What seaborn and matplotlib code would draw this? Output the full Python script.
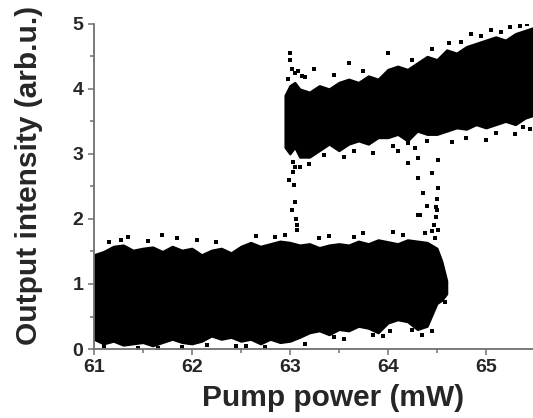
import numpy as np
import pandas as pd
import matplotlib
matplotlib.use("Agg")
import matplotlib.pyplot as plt
import seaborn as sns

# envelope of the dense low-intensity branch
low_x = [61.0, 61.1, 61.2, 61.3, 61.4, 61.5, 61.6, 61.7, 61.8, 61.9,
         62.0, 62.1, 62.2, 62.3, 62.4, 62.5, 62.6, 62.7, 62.8, 62.9,
         63.0, 63.1, 63.2, 63.3, 63.4, 63.5, 63.6, 63.7, 63.8, 63.9,
         64.0, 64.1, 64.2, 64.3, 64.4, 64.5, 64.55, 64.6]
low_top = [1.45, 1.50, 1.58, 1.60, 1.52, 1.55, 1.57, 1.50, 1.58, 1.52,
           1.55, 1.45, 1.52, 1.55, 1.48, 1.58, 1.64, 1.58, 1.62, 1.66,
           1.64, 1.60, 1.62, 1.56, 1.60, 1.62, 1.60, 1.66, 1.62, 1.68,
           1.65, 1.62, 1.68, 1.66, 1.64, 1.55, 1.35, 1.05]
low_bot = [0.15, 0.08, 0.12, 0.06, 0.08, 0.10, 0.05, 0.10, 0.15, 0.10,
           0.08, 0.12, 0.20, 0.15, 0.18, 0.12, 0.15, 0.08, 0.15, 0.10,
           0.12, 0.18, 0.25, 0.28, 0.22, 0.30, 0.28, 0.35, 0.32, 0.25,
           0.40, 0.45, 0.42, 0.30, 0.35, 0.70, 0.75, 0.85]

# envelope of the high-intensity branch
high_x = [62.95, 63.0, 63.05, 63.1, 63.2, 63.3, 63.4, 63.5, 63.6, 63.7,
          63.8, 63.9, 64.0, 64.1, 64.2, 64.3, 64.4, 64.5, 64.6, 64.7,
          64.8, 64.9, 65.0, 65.1, 65.2, 65.3, 65.4, 65.5]
high_top = [3.90, 4.05, 4.10, 4.00, 3.95, 4.05, 4.00, 4.10, 4.15, 4.10,
            4.20, 4.15, 4.30, 4.35, 4.30, 4.40, 4.50, 4.45, 4.60, 4.55,
            4.65, 4.70, 4.75, 4.80, 4.75, 4.85, 4.90, 4.95]
high_bot = [3.10, 3.00, 3.10, 2.95, 2.95, 3.05, 3.15, 3.05, 3.15, 3.20,
            3.15, 3.25, 3.25, 3.30, 3.20, 3.35, 3.30, 3.30, 3.35, 3.40,
            3.38, 3.45, 3.40, 3.45, 3.50, 3.45, 3.55, 3.60]

# single points outside the dense bands (switching points and edge speckle)
pts_x = [63.00, 63.00, 63.02, 63.05, 62.98, 63.08, 63.12,
         63.03, 63.03, 63.04, 63.05, 63.02, 63.06, 63.07, 63.07, 63.05, 62.99,
         64.20, 64.20, 64.31, 64.28, 64.31, 64.51, 64.51, 64.31, 64.50,
         64.49, 64.47, 64.51, 64.49, 64.33, 64.50, 64.45, 64.36, 64.40,
         61.35, 61.28, 61.70, 61.85, 62.05, 62.65, 62.95, 63.40, 63.75, 64.05, 64.45,
         61.15, 61.55, 62.25, 62.85, 63.30, 63.65, 64.15, 64.38, 64.48,
         61.45, 61.90, 62.45, 63.15, 63.55, 63.95, 64.35, 64.25, 64.02,
         61.10, 61.65, 62.15, 62.55, 62.75, 63.45, 63.85, 64.45, 64.58,
         63.25, 63.60, 64.00, 64.62, 64.85, 65.05, 65.25, 65.42,
         63.15, 63.45, 63.75, 64.25, 64.45, 64.75, 64.95, 65.15, 65.35,
         63.20, 63.55, 64.10, 64.65, 65.00, 65.30, 65.45, 63.85,
         63.10, 63.35, 63.65, 64.05, 64.40, 64.80, 65.10, 65.38]
pts_y = [4.55, 4.45, 4.30, 4.25, 4.15, 4.28, 4.20,
         2.88, 2.72, 2.52, 2.26, 2.14, 2.00, 1.90, 1.83, 2.80, 2.60,
         3.17, 2.86, 2.94, 3.09, 2.63, 2.48, 2.90, 2.06, 2.14,
         2.03, 1.90, 1.83, 2.18, 2.06, 2.30, 2.70, 2.40, 2.20,
         1.72, 1.68, 1.75, 1.70, 1.68, 1.74, 1.76, 1.74, 1.78, 1.80, 1.82,
         1.64, 1.66, 1.65, 1.72, 1.70, 1.73, 1.75, 1.78, 1.70,
         0.02, 0.03, 0.05, 0.08, 0.16, 0.20, 0.22, 0.30, 0.28,
         0.05, 0.02, 0.06, 0.04, 0.03, 0.18, 0.22, 0.28, 0.72,
         4.30, 4.40, 4.55, 4.70, 4.85, 4.90, 4.95, 5.00,
         4.18, 4.22, 4.28, 4.45, 4.62, 4.72, 4.82, 4.88, 4.96,
         2.85, 2.95, 3.05, 3.18, 3.22, 3.30, 3.38, 3.02,
         2.80, 2.98, 3.05, 3.12, 3.20, 3.25, 3.32, 3.42]

pts = pd.DataFrame({"power": pts_x, "intensity": pts_y})

sns.set_style("ticks")
plt.rcParams["font.family"] = ["Liberation Sans", "DejaVu Sans"]
plt.rcParams["font.weight"] = "bold"

fig = plt.figure(figsize=(5.33, 4.18), dpi=100)
ax = fig.add_axes([0.176, 0.165, 0.824, 0.778])

ax.fill_between(low_x, low_bot, low_top, color="black", linewidth=1.5,
                edgecolor="black")
ax.fill_between(high_x, high_bot, high_top, color="black", linewidth=1.5,
                edgecolor="black")
sns.scatterplot(data=pts, x="power", y="intensity", marker="s", s=10,
                color="black", linewidth=0, ax=ax, clip_on=True)

ax.set_xlim(61, 65.48)
ax.set_ylim(0, 5)
ax.set_xticks([61, 62, 63, 64, 65])
ax.set_xticks(np.arange(61.5, 65.5, 1.0), minor=True)
ax.set_yticks([0, 1, 2, 3, 4, 5])
ax.set_yticks(np.arange(0.5, 5.0, 1.0), minor=True)

for side in ["top", "right"]:
    ax.spines[side].set_visible(False)
for side in ["left", "bottom"]:
    ax.spines[side].set_color("#707070")
    ax.spines[side].set_linewidth(1.3)

ax.tick_params(which="major", direction="out", length=4.5, width=1.1,
               color="#707070", labelsize=14, pad=3)
ax.tick_params(which="minor", direction="out", length=2.8, width=1.1,
               color="#707070")
for lab in ax.get_xticklabels() + ax.get_yticklabels():
    lab.set_fontweight("bold")

ax.set_xlabel("Pump power (mW)", fontsize=21.5, fontweight="bold")
ax.set_ylabel("Output intensity (arb.u.)", fontsize=21.5, fontweight="bold")
ax.xaxis.set_label_coords(0.545, -0.108)
ax.yaxis.set_label_coords(-0.116, 0.535)

fig.savefig("out.png", dpi=100)
